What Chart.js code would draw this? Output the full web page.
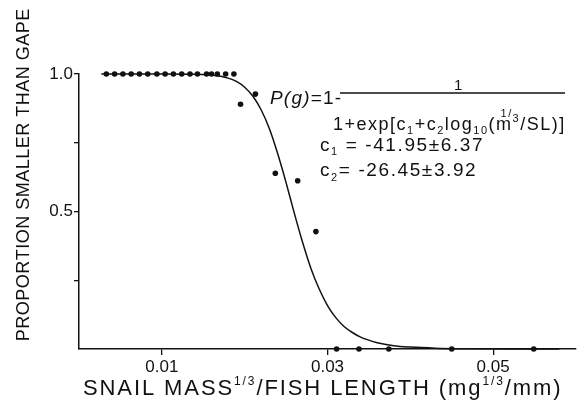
<!DOCTYPE html>
<html>
<head>
<meta charset="utf-8">
<title>Snail size vs. fish gape</title>
<script src="https://cdn.jsdelivr.net/npm/chart.js@4.4.1/dist/chart.umd.min.js"></script>
<style>
    html, body { margin: 0; padding: 0; background: #fff; }
    #wrap { width: 580px; height: 409px; }
</style>
</head>
<body>
<div id="wrap"><canvas id="gapeChart" width="580" height="409"></canvas></div>
<script>
// Observed proportions of snails smaller than the gape
const obsRatio = [
    0.0033, 0.0043, 0.0053, 0.0063, 0.0073, 0.0083, 0.0094, 0.0104, 0.0114,
    0.0124, 0.0134, 0.0143, 0.0154, 0.0160, 0.0167, 0.0177, 0.0187,
    0.0195, 0.0213, 0.0237, 0.0264, 0.0286,
    0.0311, 0.0338, 0.0374, 0.0450, 0.0549
];
const obsProportion = [
    1, 1, 1, 1, 1, 1, 1, 1, 1,
    1, 1, 1, 1, 1, 1, 1, 1,
    0.89, 0.927, 0.639, 0.612, 0.427,
    0, 0, 0, 0, 0
];

// Fitted logistic curve P(g)
const fitRatio = [
    0.0027, 0.006, 0.010, 0.014, 0.016, 0.018, 0.019, 0.020, 0.021, 0.022,
    0.023, 0.024, 0.025, 0.026, 0.027, 0.028, 0.029, 0.030, 0.031, 0.032,
    0.033, 0.034, 0.036, 0.038, 0.040, 0.043, 0.047, 0.052, 0.058
];
const fitProportion = [
    1, 1, 1, 0.999, 0.996, 0.985, 0.973, 0.952, 0.919, 0.869,
    0.80, 0.709, 0.605, 0.493, 0.387, 0.293, 0.218, 0.158, 0.114, 0.082,
    0.060, 0.043, 0.023, 0.012, 0.007, 0.003, 0.001, 0, 0
];

// Axis ticks
const xTickValues = [0.01, 0.03, 0.05];
const xTickLabels = ['0.01', '0.03', '0.05'];
const yTickValues = [0.25, 0.5, 0.75, 1.0];
const yTickLabels = ['', '0.5', '', '1.0'];

const FONT = '"Liberation Sans", Arial, sans-serif';
const INK = '#111';

function toPoints(xs, ys) {
    return xs.map((x, i) => ({ x: x, y: ys[i] }));
}

/**
 * Draw a run of text pieces char by char with extra letter spacing.
 * Each piece: { text, size, dy, italic, dx, advance }
 */
function drawRun(ctx, x, y, parts, spacing) {
    for (const p of parts) {
        ctx.font = (p.italic ? 'italic ' : '') + p.size + 'px ' + FONT;
        let cx = x + (p.dx || 0);
        for (const ch of p.text) {
            ctx.fillText(ch, cx, y + (p.dy || 0));
            cx += ctx.measureText(ch).width + spacing;
        }
        if (p.advance !== false) x = cx;
    }
    return x;
}

function runWidth(ctx, text, size, spacing) {
    ctx.font = size + 'px ' + FONT;
    let w = 0;
    for (const ch of text) w += ctx.measureText(ch).width + spacing;
    return w - spacing;
}

// Axis titles and the equation block
const labelsPlugin = {
    id: 'gapeLabels',
    afterDraw(chart) {
        const ctx = chart.ctx;
        ctx.save();
        ctx.fillStyle = INK;
        ctx.strokeStyle = INK;
        ctx.textAlign = 'left';
        ctx.textBaseline = 'alphabetic';

        // y axis title, rotated
        const yTitle = 'PROPORTION SMALLER THAN GAPE';
        const yw = runWidth(ctx, yTitle, 18, 0.5);
        ctx.save();
        ctx.translate(29, 175);
        ctx.rotate(-Math.PI / 2);
        drawRun(ctx, -yw / 2, 0, [{ text: yTitle, size: 18 }], 0.5);
        ctx.restore();

        // x axis title with superscripts
        drawRun(ctx, 83, 395, [
            { text: 'SNAIL MASS', size: 22 },
            { text: '1/3', size: 12, dy: -10 },
            { text: '/FISH LENGTH (mg', size: 22 },
            { text: '1/3', size: 12, dy: -10 },
            { text: '/mm)', size: 22 }
        ], 1.9);

        // P(g) = 1 - 1 / (1 + exp[...])
        drawRun(ctx, 270, 104, [
            { text: 'P(g)', size: 19, italic: true },
            { text: '=1-', size: 19 }
        ], 1.2);
        ctx.lineWidth = 1.4;
        ctx.beginPath();
        ctx.moveTo(340, 93);
        ctx.lineTo(565, 93);
        ctx.stroke();
        drawRun(ctx, 454, 90, [{ text: '1', size: 15 }], 0);
        drawRun(ctx, 333, 130, [
            { text: '1+exp[c', size: 18 },
            { text: '1', size: 11, dy: 4 },
            { text: '+c', size: 18 },
            { text: '2', size: 11, dy: 4 },
            { text: 'log', size: 18 },
            { text: '10', size: 11, dy: 4 },
            { text: '(m', size: 18 },
            { text: '1/', size: 11, dy: -13, dx: -12, advance: false },
            { text: '3', size: 11, dy: -8 },
            { text: '/SL)]', size: 18 }
        ], 1.5);

        // fitted coefficients
        drawRun(ctx, 320, 151, [
            { text: 'c', size: 19 },
            { text: '1', size: 11, dy: 4 },
            { text: ' = -41.95±6.37', size: 19 }
        ], 1.6);
        drawRun(ctx, 320, 176, [
            { text: 'c', size: 19 },
            { text: '2', size: 11, dy: 5 },
            { text: '= -26.45±3.92', size: 19 }
        ], 1.6);

        ctx.restore();
    }
};

function renderChart() {
    const ctx = document.getElementById('gapeChart').getContext('2d');

    new Chart(ctx, {
        type: 'scatter',
        data: {
            datasets: [
                {
                    label: 'Fitted P(g)',
                    data: toPoints(fitRatio, fitProportion),
                    showLine: true,
                    cubicInterpolationMode: 'monotone',
                    borderColor: INK,
                    borderWidth: 1.5,
                    pointRadius: 0,
                    clip: false
                },
                {
                    label: 'Observed',
                    data: toPoints(obsRatio, obsProportion),
                    showLine: false,
                    backgroundColor: INK,
                    borderColor: INK,
                    borderWidth: 0,
                    pointRadius: 2.8,
                    clip: false
                }
            ]
        },
        options: {
            responsive: false,
            animation: false,
            devicePixelRatio: 1,
            layout: { padding: { top: 74, right: 0, bottom: 0, left: 0 } },
            plugins: {
                legend: { display: false },
                tooltip: { enabled: false }
            },
            scales: {
                x: {
                    type: 'linear',
                    min: 0,
                    max: 0.06,
                    afterBuildTicks: scale => {
                        scale.ticks = xTickValues.map(v => ({ value: v }));
                    },
                    afterFit: scale => { scale.height = 60; },
                    border: { display: true, color: INK, width: 1.5 },
                    grid: {
                        drawOnChartArea: false,
                        drawTicks: true,
                        tickLength: 6,
                        color: INK,
                        lineWidth: 1.3
                    },
                    ticks: {
                        color: INK,
                        padding: 2,
                        maxRotation: 0,
                        font: { family: FONT, size: 17 },
                        callback: value => xTickLabels[xTickValues.indexOf(value)]
                    }
                },
                y: {
                    type: 'linear',
                    min: 0,
                    max: 1.0,
                    afterBuildTicks: scale => {
                        scale.ticks = yTickValues.map(v => ({ value: v }));
                    },
                    afterFit: scale => { scale.width = 79; },
                    border: { display: true, color: INK, width: 1.5 },
                    grid: {
                        drawOnChartArea: false,
                        drawTicks: true,
                        tickLength: 5,
                        color: INK,
                        lineWidth: 1.3
                    },
                    ticks: {
                        color: INK,
                        padding: 1,
                        font: { family: FONT, size: 17 },
                        callback: value => yTickLabels[yTickValues.indexOf(value)]
                    }
                }
            }
        },
        plugins: [labelsPlugin]
    });
}

document.addEventListener('DOMContentLoaded', renderChart);
</script>
</body>
</html>
